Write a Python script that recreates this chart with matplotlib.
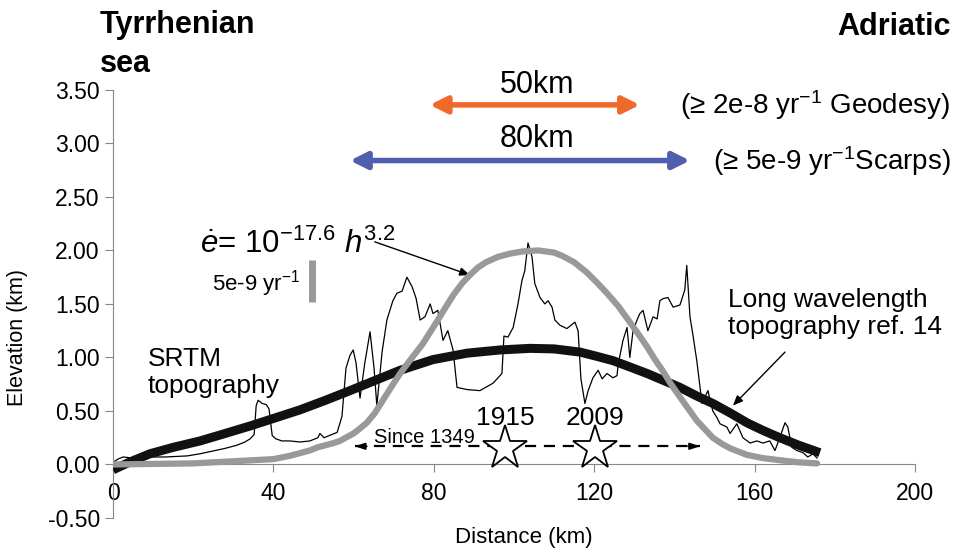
import matplotlib
matplotlib.use("Agg")
import matplotlib.pyplot as plt

plt.rcParams['font.family'] = ['Liberation Sans', 'DejaVu Sans']
plt.rcParams['mathtext.fontset'] = 'custom'
plt.rcParams['mathtext.rm'] = 'Liberation Sans'
plt.rcParams['mathtext.it'] = 'Liberation Sans:italic'

# SRTM topography profile (km, km)
srtm_x = [0, 1.2, 2.5, 5, 7.5, 13, 18.5, 21.7, 24.2, 27.9, 30.9, 32.9, 34.2, 35.2,
          35.7, 36.2, 37.2, 38.2, 38.9, 39.7, 40.6, 42.1, 44.1, 46.6, 49.1, 51.1,
          51.6, 52.6, 55.9, 57.1, 58.1, 59.1, 59.9, 60.6, 61.6, 62.8, 64.1, 65.1,
          65.8, 67.1, 68.3, 69.8, 70.8, 72.1, 73.3, 74.6, 75.6, 76.6, 77.8, 79.1,
          79.8, 81.0, 82.3, 83.5, 84.8, 85.8, 88.3, 91.5, 94.8, 97.0, 97.5, 98.5,
          99.8, 101.0, 102.0, 102.7, 103.5, 104.5, 105.2, 106.5, 107.7, 108.5,
          109.5, 110.2, 111.5, 113.2, 115.2, 116.0, 116.7, 117.7, 118.5, 119.7,
          121.0, 122.0, 123.2, 124.7, 125.7, 126.0, 127.2, 128.2, 128.9, 129.7,
          130.7, 131.4, 132.2, 133.4, 134.7, 135.7, 136.4, 137.2, 138.4, 139.7,
          141.4, 142.6, 143.1, 143.9, 144.6, 145.6, 146.4, 146.9, 147.6, 148.4,
          148.9, 149.6, 150.6, 151.4, 153.1, 153.9, 155.6, 157.1, 158.9, 160.6,
          162.1, 163.8, 165.1, 166.3, 167.6, 168.3, 169.3, 170.6, 172.1, 173.3,
          174.6, 175.6]
srtm_h = [0.02, 0.05, 0.07, 0.06, 0.07, 0.07, 0.08, 0.10, 0.12, 0.15, 0.18, 0.21, 0.24, 0.28,
          0.55, 0.60, 0.57, 0.56, 0.52, 0.27, 0.24, 0.22, 0.22, 0.21, 0.22, 0.25,
          0.29, 0.25, 0.30, 0.45, 0.90, 1.02, 1.07, 0.95, 0.62, 0.95, 1.24, 0.90,
          0.55, 1.05, 1.35, 1.53, 1.60, 1.62, 1.75, 1.66, 1.55, 1.35, 1.38, 1.50,
          1.41, 1.44, 1.16, 1.25, 1.07, 0.72, 0.70, 0.69, 0.76, 0.85, 1.20, 1.19,
          1.28, 1.50, 1.72, 1.81, 2.07, 1.94, 1.69, 1.56, 1.50, 1.53,
          1.47, 1.35, 1.30, 1.27, 1.33, 1.25, 0.80, 0.57, 0.69, 0.81,
          0.88, 0.80, 0.85, 0.81, 0.83, 0.94, 1.16, 1.28, 1.00, 1.25,
          1.35, 1.41, 1.44, 1.25, 1.38, 1.36, 1.53, 1.55, 1.56, 1.47,
          1.49, 1.63, 1.86, 1.38, 1.22, 0.97, 0.72, 0.57, 0.63, 0.69,
          0.60, 0.50, 0.44, 0.38, 0.35, 0.29, 0.38, 0.25, 0.20, 0.22,
          0.20, 0.22, 0.13, 0.25, 0.39, 0.35, 0.16, 0.13, 0.11, 0.07,
          0.10, 0.06]

# long wavelength topography (ref. 14)
long_x = [0, 4, 9.2, 15, 21.7, 28, 34.2, 40, 46.6, 53, 59.1, 65, 71.6, 79.8, 88.3,
          96.5, 104, 110, 116.5, 120.7, 124.7, 129, 133.2, 137, 141.4, 145.6, 149.6,
          154, 158.1, 162, 166.3, 171, 176.3]
long_h = [-0.05, 0.02, 0.10, 0.16, 0.22, 0.29, 0.36, 0.43, 0.51, 0.60, 0.69, 0.78, 0.88,
          0.98, 1.04, 1.07, 1.085, 1.08, 1.05, 1.01, 0.97, 0.91, 0.85, 0.79, 0.72,
          0.64, 0.57, 0.48, 0.39, 0.32, 0.25, 0.18, 0.11]

# strain rate curve  e = 10^-17.6 h^3.2
rate_x = [0, 10, 20, 30, 40, 44, 47, 49, 51, 53, 55, 56.6, 58, 60, 61.7, 63.3, 65.3,
          67.3, 69.5, 71.6, 74, 77.3, 79.5, 81.5, 83.3, 85, 87, 89, 91, 93, 96, 99,
          102, 106, 110, 112, 115, 118, 120.7, 123.2, 126, 128.9, 131, 133.2, 135,
          137.2, 139, 141.4, 143.5, 145.6, 147.6, 149.6, 152, 154, 156, 158.1, 162,
          166.3, 171, 175.6]
rate_v = [0.0, 0.005, 0.01, 0.03, 0.05, 0.08, 0.11, 0.13, 0.16, 0.18, 0.20, 0.22, 0.25,
          0.29, 0.34, 0.39, 0.48, 0.60, 0.73, 0.85, 0.97, 1.13, 1.26, 1.38, 1.49,
          1.59, 1.69, 1.77, 1.84, 1.89, 1.94, 1.97, 1.99, 2.0, 1.98, 1.95, 1.89, 1.80,
          1.70, 1.60, 1.48, 1.33, 1.22, 1.10, 0.99, 0.87, 0.76, 0.63, 0.52, 0.41,
          0.33, 0.25, 0.19, 0.15, 0.12, 0.09, 0.06, 0.04, 0.02, 0.01]

quake_x = [97.8, 120.2]
quake_labels = ['1915', '2009']
geodesy_span = [79, 131.4]
scarps_span = [59.1, 143.9]
since_span = [60.3, 146.4]

fig = plt.figure(figsize=(9.58, 5.55), dpi=100)
ax = fig.add_axes([0.118, 0.0667, 0.837, 0.7713])

ax.plot(srtm_x, srtm_h, color='black', lw=0.9, zorder=2)
ax.plot(long_x, long_h, color='#111111', lw=6.5, zorder=3, solid_capstyle='butt')
ax.plot(rate_x, rate_v, color='#999999', lw=4.5, zorder=4, solid_capstyle='round')

ax.set_xlim(0, 200)
ax.set_ylim(-0.5, 3.5)
ax.set_xticks([0, 40, 80, 120, 160, 200])
ax.set_yticks([-0.5, 0, 0.5, 1, 1.5, 2, 2.5, 3, 3.5])
ax.set_yticklabels(['%.2f' % v for v in ax.get_yticks()])
for s in ['top', 'right']:
    ax.spines[s].set_visible(False)
ax.spines['bottom'].set_position(('data', 0))
for s in ['left', 'bottom']:
    ax.spines[s].set_color('#888888')
ax.tick_params(axis='both', colors='#888888', length=5.5, labelcolor='black', labelsize=16.5)
ax.tick_params(axis='x', pad=7)
ax.tick_params(axis='y', pad=4)

fig.text(524 / 958, 1 - 538 / 555, 'Distance (km)', fontsize=16, ha='center', va='center')
fig.text(18 / 958, 1 - 337 / 555, 'Elevation (km)', fontsize=15.5, ha='center',
         va='center', rotation=90)

# headings
fig.text(0.104, 0.982, 'Tyrrhenian\nsea', fontsize=22, fontweight='bold', va='top',
         ha='left', linespacing=1.4)
fig.text(0.992, 0.978, 'Adriatic', fontsize=22, fontweight='bold', va='top', ha='right')

# wavelength arrows
ax.annotate('', xy=(geodesy_span[0], 3.36), xytext=(geodesy_span[1], 3.36),
            arrowprops=dict(arrowstyle='<|-|>,head_length=1.0,head_width=0.5',
                            color='#f0692a', lw=4, shrinkA=0, shrinkB=0),
            annotation_clip=False)
ax.annotate('', xy=(scarps_span[0], 2.84), xytext=(scarps_span[1], 2.84),
            arrowprops=dict(arrowstyle='<|-|>,head_length=1.0,head_width=0.5',
                            color='#4f5fae', lw=4, shrinkA=0, shrinkB=0),
            annotation_clip=False)
ax.text(105.7, 3.47, '50km', fontsize=22, ha='center', va='baseline', clip_on=False)
ax.text(105.7, 2.97, '80km', fontsize=22, ha='center', va='baseline')
fig.text(0.992, 0.81, '(\u2265 2e-8 yr$^{-1}$ Geodesy)', fontsize=20, ha='right', va='center')
fig.text(0.992, 0.71, '(\u2265 5e-9 yr$^{-1}$Scarps)', fontsize=20, ha='right', va='center')

# equation and its pointer
ax.text(21.7, 1.98, r'$\dot{e}$= 10$^{-17.6}$ $h^{3.2}$', fontsize=22.5, ha='left',
        va='baseline')
ax.annotate('', xy=(89, 1.77), xytext=(65.3, 2.08),
            arrowprops=dict(arrowstyle='-|>,head_length=0.6,head_width=0.25',
                            color='black', lw=1, shrinkA=0, shrinkB=0))

# scale bar
ax.text(46.6, 1.63, r'5e-9 yr$^{-1}$', fontsize=16, ha='right', va='baseline')
ax.plot([49.6, 49.6], [1.52, 1.91], color='#999999', lw=5, solid_capstyle='butt')

ax.text(8.7, 0.86, 'SRTM\ntopography', fontsize=19, ha='left', va='center', linespacing=1.2)
ax.text(153.4, 1.41, 'Long wavelength\ntopography ref. 14', fontsize=19, ha='left',
        va='center', linespacing=1.15)
ax.annotate('', xy=(154.6, 0.55), xytext=(167.6, 1.05),
            arrowprops=dict(arrowstyle='-|>,head_length=0.6,head_width=0.25',
                            color='black', lw=1, shrinkA=0, shrinkB=0))

# historical earthquakes
ax.plot(since_span, [0.17, 0.17], color='black', lw=1.6, ls=(0, (5, 3.5)), zorder=5)
for end, start in [(since_span[0], since_span[0] + 3), (since_span[1], since_span[1] - 3)]:
    ax.annotate('', xy=(end, 0.17), xytext=(start, 0.17),
                arrowprops=dict(arrowstyle='-|>,head_length=0.6,head_width=0.2',
                                color='black', lw=1.2, shrinkA=0, shrinkB=0), zorder=5)
ax.text(77.6, 0.20, 'Since 1349', fontsize=14.5, ha='center', va='baseline')
ax.plot(quake_x, [0.15] * len(quake_x), ls='none', marker='*', ms=33, mfc='white',
        mec='black', mew=1.3, zorder=6)
for qx, ql in zip(quake_x, quake_labels):
    ax.text(qx, 0.365, ql, fontsize=19, ha='center', va='baseline')

fig.savefig('out.png', dpi=100)
